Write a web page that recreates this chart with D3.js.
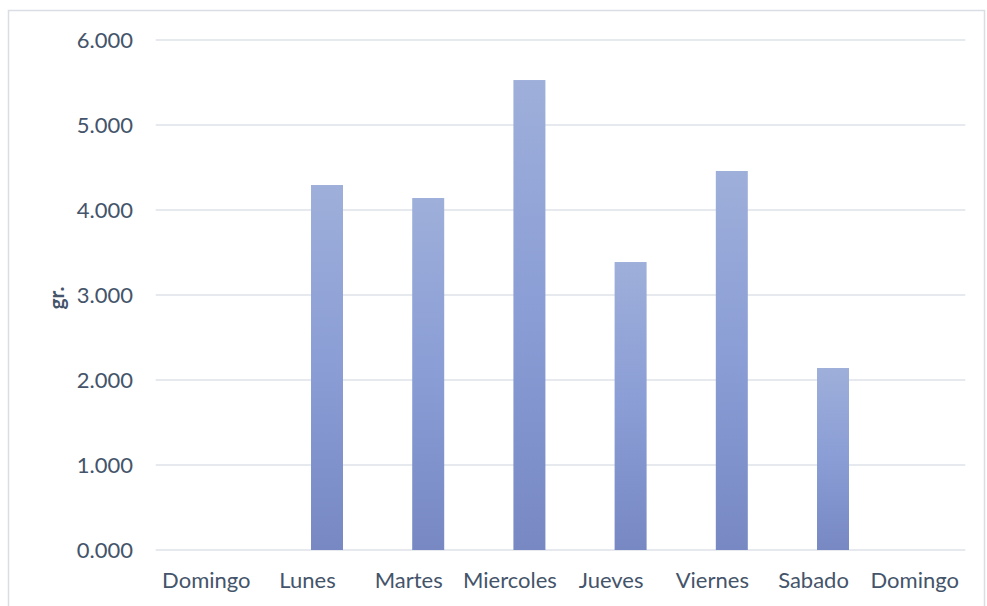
<!DOCTYPE html>
<html>
<head>
<meta charset="utf-8">
<script src="https://cdn.jsdelivr.net/npm/d3@7/dist/d3.min.js"></script>
<style>
  html, body { margin: 0; padding: 0; background: #fff; }
  svg { display: block; }
  text { font-family: Lato, "Open Sans", sans-serif; fill: #44546A; }
</style>
</head>
<body>
<svg id="chart" width="987" height="606"></svg>
<script>
// Days of the week (the week starts and ends on Sunday)
const categories = ["Domingo", "Lunes", "Martes", "Miercoles", "Jueves", "Viernes", "Sabado", "Domingo"];
// Two clustered series; only the second one carries values
const seriesNames = ["Serie 1", "Serie 2"];
const serie1 = [null, null, null, null, null, null, null, null];
const serie2 = [null, 4294, 4141, 5529, 3388, 4459, 2141, null];
const yTicks = [0, 1000, 2000, 3000, 4000, 5000, 6000];
const yTitle = "gr.";

const svg = d3.select("#chart");
const W = 987, H = 606;
const plot = { left: 155.7, right: 965.3, top: 40, bottom: 550 };

// Outer chart frame
svg.append("rect")
  .attr("x", 8.5).attr("y", 10.5)
  .attr("width", W - 11).attr("height", H + 20)
  .attr("fill", "#fff")
  .attr("stroke", "#DADDE3").attr("stroke-width", 1.5);

const idx = categories.map((_, i) => i);
const x = d3.scaleBand().domain(idx).range([plot.left, plot.right]).padding(0);
const xInner = d3.scaleBand().domain(seriesNames).range([0, x.bandwidth()])
  .paddingInner(0.18).paddingOuter(0.387);
const y = d3.scaleLinear().domain([0, 6000]).range([plot.bottom, plot.top]);

// Bar fill: lighter at the top, darker at the base
const defs = svg.append("defs");
const grad = defs.append("linearGradient").attr("id", "barGrad")
  .attr("x1", 0).attr("y1", 0).attr("x2", 0).attr("y2", 1);
grad.append("stop").attr("offset", "0%").attr("stop-color", "#9EAFDA");
grad.append("stop").attr("offset", "50%").attr("stop-color", "#8A9DD5");
grad.append("stop").attr("offset", "100%").attr("stop-color", "#7788C2");

// Horizontal gridlines
svg.append("g")
  .selectAll("line").data(yTicks).join("line")
  .attr("x1", plot.left).attr("x2", plot.right)
  .attr("y1", d => y(d)).attr("y2", d => y(d))
  .attr("stroke", "#DEE2E8").attr("stroke-width", 1.5);

// Y axis labels (European thousands separator)
const fmt = d => (d / 1000).toFixed(3);
const yAxis = d3.axisLeft(y).tickValues(yTicks).tickFormat(fmt).tickSize(0).tickPadding(0);
const gy = svg.append("g").attr("transform", `translate(133,0)`).call(yAxis);
gy.select(".domain").remove();
gy.selectAll("text").style("font-size", "22px").attr("fill", "#44546A")
  .style("font-family", "Lato, 'Open Sans', sans-serif");

// X axis labels
const xAxis = d3.axisBottom(x).tickFormat(i => categories[i]).tickSize(0).tickPadding(0);
const gx = svg.append("g").attr("transform", `translate(0,572)`).call(xAxis);
gx.select(".domain").remove();
gx.selectAll("text").style("font-size", "22px").attr("fill", "#44546A")
  .style("font-family", "Lato, 'Open Sans', sans-serif");

// Bars
const series = [serie1, serie2];
seriesNames.forEach((name, s) => {
  const data = series[s].map((v, i) => ({ i, v })).filter(d => d.v != null);
  svg.append("g")
    .selectAll("rect").data(data).join("rect")
    .attr("x", d => x(d.i) + xInner(name))
    .attr("width", xInner.bandwidth())
    .attr("y", d => y(d.v))
    .attr("height", d => y(0) - y(d.v))
    .attr("fill", "url(#barGrad)");
});

// Y axis title
svg.append("text")
  .attr("transform", `translate(64,298) rotate(-90)`)
  .attr("text-anchor", "middle")
  .style("font-size", "21px").style("font-weight", "bold")
  .text(yTitle);
</script>
</body>
</html>
